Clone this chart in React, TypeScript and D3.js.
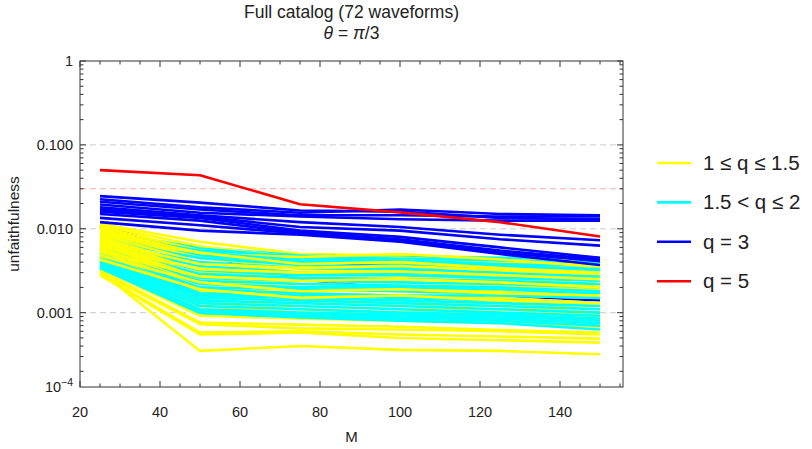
import React from "react";
import * as d3 from "d3";

const M = [25, 50, 75, 100, 125, 150];

const redSeries: number[][] = [
  [0.05, 0.0434, 0.0196, 0.0157, 0.012, 0.0081],
];

const blueSeries: number[][] = [
  [0.011, 0.005, 0.0025, 0.0019, 0.0016, 0.0014],
  [0.0105, 0.0045, 0.004, 0.0037, 0.0037, 0.003],
  [0.0245, 0.0205, 0.0165, 0.016, 0.0135, 0.013],
  [0.0225, 0.018, 0.0155, 0.017, 0.015, 0.0145],
  [0.021, 0.017, 0.0145, 0.0145, 0.014, 0.014],
  [0.0195, 0.0155, 0.014, 0.013, 0.0125, 0.0125],
  [0.018, 0.0145, 0.012, 0.0105, 0.0085, 0.0073],
  [0.017, 0.014, 0.0105, 0.0095, 0.0075, 0.0063],
  [0.016, 0.0135, 0.0095, 0.008, 0.006, 0.0045],
  [0.015, 0.0125, 0.009, 0.0075, 0.0055, 0.0043],
  [0.0135, 0.011, 0.0088, 0.0072, 0.0052, 0.0041],
  [0.012, 0.0095, 0.0085, 0.007, 0.005, 0.0037],
];

const cyanSeries: number[][] = [
  [0.009, 0.006, 0.0048, 0.0046, 0.0045, 0.0045],
  [0.0087, 0.0058, 0.0046, 0.0044, 0.0042, 0.004],
  [0.0084, 0.0055, 0.0045, 0.0042, 0.0038, 0.0036],
  [0.008, 0.0052, 0.0042, 0.004, 0.0036, 0.0033],
  [0.0076, 0.0048, 0.004, 0.0038, 0.0035, 0.0031],
  [0.0072, 0.0045, 0.0037, 0.0035, 0.0033, 0.003],
  [0.0068, 0.004, 0.0034, 0.0033, 0.003, 0.0027],
  [0.0065, 0.0036, 0.003, 0.003, 0.0028, 0.0025],
  [0.0062, 0.0032, 0.0028, 0.0028, 0.0026, 0.0024],
  [0.006, 0.0029, 0.0026, 0.0025, 0.0024, 0.0022],
  [0.0058, 0.0026, 0.0024, 0.0023, 0.0022, 0.002],
  [0.0056, 0.0024, 0.0022, 0.0021, 0.002, 0.0018],
  [0.0054, 0.0022, 0.002, 0.002, 0.0019, 0.0017],
  [0.0052, 0.002, 0.0019, 0.0018, 0.0017, 0.0016],
  [0.005, 0.0019, 0.0017, 0.0016, 0.0016, 0.0015],
  [0.0048, 0.0017, 0.0016, 0.0015, 0.0014, 0.0013],
  [0.0046, 0.0016, 0.0015, 0.0014, 0.0013, 0.0012],
  [0.0044, 0.0015, 0.0014, 0.0013, 0.0012, 0.0011],
  [0.0042, 0.0014, 0.0013, 0.0012, 0.0011, 0.001],
  [0.004, 0.0013, 0.0012, 0.0011, 0.001, 0.00092],
  [0.0039, 0.0012, 0.0011, 0.001, 0.00095, 0.00085],
  [0.0037, 0.0011, 0.001, 0.00095, 0.0009, 0.0008],
  [0.0036, 0.00105, 0.00095, 0.0009, 0.00085, 0.00075],
  [0.0035, 0.001, 0.0009, 0.00085, 0.0008, 0.0007],
  [0.0034, 0.00099, 0.00088, 0.0008, 0.00075, 0.00063],
];

const yellowSeries: number[][] = [
  [0.0115, 0.007, 0.005, 0.0048, 0.0045, 0.004],
  [0.011, 0.0062, 0.0045, 0.0045, 0.004, 0.0038],
  [0.0105, 0.0055, 0.004, 0.0042, 0.0036, 0.0033],
  [0.01, 0.005, 0.0046, 0.005, 0.0043, 0.0035],
  [0.0095, 0.0048, 0.0036, 0.0035, 0.0031, 0.0028],
  [0.009, 0.0045, 0.0033, 0.0032, 0.003, 0.0026],
  [0.0085, 0.004, 0.003, 0.003, 0.0027, 0.0024],
  [0.008, 0.0035, 0.0029, 0.0028, 0.0025, 0.0022],
  [0.0076, 0.0031, 0.0026, 0.0026, 0.0023, 0.0021],
  [0.0072, 0.0028, 0.0024, 0.0023, 0.0021, 0.0019],
  [0.0068, 0.0026, 0.0022, 0.0021, 0.0019, 0.0017],
  [0.0065, 0.0024, 0.002, 0.0019, 0.0018, 0.0016],
  [0.006, 0.0022, 0.0019, 0.0018, 0.0016, 0.0015],
  [0.0057, 0.002, 0.0017, 0.0016, 0.0015, 0.0013],
  [0.0054, 0.0018, 0.0016, 0.0015, 0.0014, 0.0012],
  [0.005, 0.0017, 0.0015, 0.0013, 0.0013, 0.0011],
  [0.0047, 0.0015, 0.0014, 0.0012, 0.0012, 0.001],
  [0.0045, 0.0014, 0.0012, 0.0011, 0.0011, 0.00095],
  [0.0042, 0.0013, 0.0011, 0.001, 0.001, 0.00088],
  [0.004, 0.0012, 0.001, 0.00095, 0.00093, 0.00082],
  [0.0038, 0.0011, 0.00095, 0.0009, 0.00085, 0.00075],
  [0.0036, 0.00098, 0.0009, 0.00088, 0.0008, 0.00072],
  [0.0034, 0.00092, 0.00085, 0.0008, 0.00075, 0.00068],
  [0.0032, 0.00076, 0.00072, 0.00068, 0.00062, 0.00058],
  [0.003, 0.00073, 0.00065, 0.00063, 0.0006, 0.00055],
  [0.0029, 0.00058, 0.0006, 0.00055, 0.00052, 0.00049],
  [0.0028, 0.00055, 0.00058, 0.0005, 0.00047, 0.00044],
  [0.0031, 0.00035, 0.0004, 0.00036, 0.00035, 0.00032],
  [0.0088, 0.0052, 0.0038, 0.004, 0.0034, 0.003],
  [0.007, 0.0038, 0.0034, 0.0036, 0.0032, 0.0029],
  [0.0062, 0.0033, 0.003, 0.0031, 0.0028, 0.0025],
  [0.0055, 0.0027, 0.0024, 0.0025, 0.0023, 0.002],
  [0.0048, 0.0023, 0.0018, 0.0019, 0.0017, 0.0016],
  [0.0043, 0.0019, 0.0015, 0.0016, 0.0014, 0.0013],
];

const groupColors = ["#ffff00", "#00ffff", "#0000ff", "#ff0000"];
const legendLabels = ["1 ≤ q ≤ 1.5", "1.5 < q ≤ 2", "q = 3", "q = 5"];

const xTickValues = [20, 40, 60, 80, 100, 120, 140];
const yTickValues = [1, 0.1, 0.01, 0.001];
const yTickLabels = ["1", "0.100", "0.010", "0.001"];
const gridValues = [0.1, 0.01, 0.001];
const thresholdValue = 0.03;

const FONT = "'Liberation Sans', Arial, sans-serif";

export default function App() {
  const W = 812;
  const H = 449;
  const left = 80;
  const right = 623;
  const top = 61;
  const bottom = 387;
  const xMin = 20;
  const xMax = 155.75;
  const yMin = Math.pow(10, -3.886);

  const x = d3.scaleLinear().domain([xMin, xMax]).range([left, right]);
  const y = d3.scaleLog().domain([yMin, 1]).range([bottom, top]);

  const line = d3
    .line<number>()
    .x((_, i) => x(M[i]))
    .y((v) => y(v));

  const drawn: { color: string; values: number[] }[] = [];
  const n = Math.max(yellowSeries.length, cyanSeries.length);
  for (let i = 0; i < n; i++) {
    if (i < blueSeries.length) drawn.push({ color: groupColors[2], values: blueSeries[i] });
    if (i < yellowSeries.length) drawn.push({ color: groupColors[0], values: yellowSeries[i] });
    if (i < cyanSeries.length) drawn.push({ color: groupColors[1], values: cyanSeries[i] });
  }
  redSeries.forEach((s) => drawn.push({ color: groupColors[3], values: s }));

  const xMinor: number[] = [];
  for (let v = xMin; v <= xMax; v += 5) xMinor.push(v);
  const yMinor: number[] = [];
  for (let e = -4; e < 0; e++) {
    for (let k = 2; k <= 9; k++) {
      const v = k * Math.pow(10, e);
      if (v >= yMin && v <= 1) yMinor.push(v);
    }
  }

  const axisColor = "#333";
  const legendX = 657;
  const legendY0 = 163;
  const legendStep = 39.4;

  return (
    <svg
      width={W}
      height={H}
      style={{ position: "absolute", left: 0, top: 0, background: "#fff" }}
      fontFamily={FONT}
    >
      <rect x={0} y={0} width={W} height={H} fill="#fff" />
      <text x={(left + right) / 2} y={18} textAnchor="middle" fontSize={17.5} fill="#222">
        Full catalog (72 waveforms)
      </text>
      <text x={(left + right) / 2} y={39} textAnchor="middle" fontSize={17.5} fill="#222">
        <tspan fontStyle="italic">θ</tspan>{"  =  "}<tspan fontStyle="italic">π</tspan>/3
      </text>

      {gridValues.map((g) => (
        <line
          key={"g" + g}
          x1={left}
          x2={right}
          y1={y(g)}
          y2={y(g)}
          stroke="#cccccc"
          strokeWidth={1}
          strokeDasharray="6,4"
        />
      ))}
      <line
        x1={left}
        x2={right}
        y1={y(thresholdValue)}
        y2={y(thresholdValue)}
        stroke="#ffaaaa"
        strokeWidth={1}
        strokeDasharray="6,4"
      />

      <g clipPath="url(#clip)">
        {drawn.map((d, i) => (
          <path
            key={i}
            d={line(d.values) || ""}
            fill="none"
            stroke={d.color}
            strokeWidth={2.6}
            strokeLinejoin="round"
          />
        ))}
      </g>

      <rect x={left} y={top} width={right - left} height={bottom - top} fill="none" stroke={axisColor} strokeWidth={1} />

      {xMinor.map((v) => {
        const major = v % 20 === 0;
        const len = major ? 6 : 3.5;
        return (
          <g key={"xt" + v}>
            <line x1={x(v)} x2={x(v)} y1={bottom} y2={bottom - len} stroke={axisColor} />
            <line x1={x(v)} x2={x(v)} y1={top} y2={top + len} stroke={axisColor} />
          </g>
        );
      })}
      {xTickValues.map((v) => (
        <text key={"xl" + v} x={x(v)} y={417} textAnchor="middle" fontSize={14.5} fill="#222">
          {v}
        </text>
      ))}

      {yTickValues.map((v) => (
        <g key={"ytm" + v}>
          <line x1={left} x2={left + 6} y1={y(v)} y2={y(v)} stroke={axisColor} />
          <line x1={right} x2={right - 6} y1={y(v)} y2={y(v)} stroke={axisColor} />
        </g>
      ))}
      {yMinor.map((v) => (
        <g key={"ytn" + v}>
          <line x1={left} x2={left + 3.5} y1={y(v)} y2={y(v)} stroke={axisColor} />
          <line x1={right} x2={right - 3.5} y1={y(v)} y2={y(v)} stroke={axisColor} />
        </g>
      ))}
      {yTickValues.map((v, i) => (
        <text key={"yl" + v} x={73} y={y(v) + 5} textAnchor="end" fontSize={14.5} fill="#222">
          {yTickLabels[i]}
        </text>
      ))}
      <text x={73} y={y(yMin) + 5} textAnchor="end" fontSize={14.5} fill="#222">
        10<tspan dy={-6} fontSize={10.5}>−4</tspan>
      </text>

      <text x={(left + right) / 2} y={442} textAnchor="middle" fontSize={15} fill="#222">
        M
      </text>
      <text
        transform={`translate(19, ${(top + bottom) / 2}) rotate(-90)`}
        textAnchor="middle"
        fontSize={15.5}
        fill="#222"
      >
        unfaithfulness
      </text>

      {legendLabels.map((lab, i) => (
        <g key={"lg" + i}>
          <line
            x1={legendX}
            x2={legendX + 34}
            y1={legendY0 + i * legendStep}
            y2={legendY0 + i * legendStep}
            stroke={groupColors[i]}
            strokeWidth={2.6}
          />
          <text x={legendX + 46} y={legendY0 + i * legendStep + 7} fontSize={20.5} fill="#222">
            {lab}
          </text>
        </g>
      ))}
      <defs>
        <clipPath id="clip">
          <rect x={left} y={top} width={right - left} height={bottom - top} />
        </clipPath>
      </defs>
    </svg>
  );
}
